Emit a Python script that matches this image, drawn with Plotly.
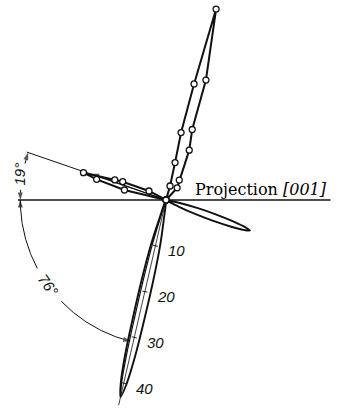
import numpy as np
import plotly.graph_objects as go

# ---- data (radius in scale units, angle in degrees, counter-clockwise from +x) ----
# measured lobe pointing up (open circles), listed as a closed loop
upper_r = [0, 3.1, 8.2, 14.7, 25.4, 42.0, 26.9, 16.0, 11.7, 5.1, 3.5, 0]
upper_deg = [0, 74.0, 76.4, 77.4, 76.4, 75.3, 71.6, 69.6, 65.0, 56.4, 47.5, 0]

# measured lobe pointing to the upper left (open circles), closed loop
left_r = [0, 4.1, 10.0, 11.7, 18.5, 15.4, 9.1, 0]
left_deg = [0, 152.1, 157.1, 158.6, 161.7, 163.4, 166.5, 0]

# smooth lobes: axis direction, radii along the axis and half-opening of the outline
lower_axis_deg = 257.0
lower_r = [0, 4, 10, 18, 26, 34, 40, 43]
lower_half_deg = [7.0, 6.6, 5.6, 3.9, 2.7, 1.8, 0.9, 0.0]

right_axis_deg = 340.0
right_r = [0, 3, 7, 11, 15, 18, 19]
right_half_deg = [8.5, 7.6, 5.6, 3.9, 2.3, 0.9, 0.0]

# radial scale drawn on the lower lobe
scale_ticks = [10, 20, 30, 40]
scale_labels = ["10", "20", "30", "40"]

# marked angles
angle_small = 19   # between the projection line and the upper-left direction
angle_large = 76   # between the projection line and the lower lobe

# ---- geometry / style ----
PX = 4.7            # pixels per radial unit
W, H = 343, 410
CX, CY = 166, 200   # pole, pixels from the top-left corner
INK = "#111111"
ARC_R = 31.0
LINE_LEFT, LINE_RIGHT = 31.5, 35.0
ITALIC = dict(family="Liberation Sans Narrow, Liberation Sans, sans-serif",
              color=INK, style="italic")


def to_xy(r, deg):
    r = np.asarray(r, dtype=float)
    t = np.radians(np.asarray(deg, dtype=float))
    return r * np.cos(t), r * np.sin(t)


def lobe_outline(axis, radii, half):
    radii = list(radii)
    half = list(half)
    rr = radii + radii[-2::-1]
    aa = [axis - h for h in half] + [axis + h for h in half[-2::-1]]
    return to_xy(rr, aa)


def arc(a0, a1, r=ARC_R, n=40):
    a = np.linspace(a0, a1, n)
    return to_xy(np.full(n, r), a)


fig = go.Figure()


def add_line(x, y, width=1.6, shape="linear", arrow_end=False):
    x = list(x)
    y = list(y)
    kw = dict(x=x, y=y, line=dict(color=INK, width=width, shape=shape),
              hoverinfo="skip", showlegend=False)
    if arrow_end:
        sizes = [0] * (len(x) - 1) + [8]
        kw.update(mode="lines+markers",
                  marker=dict(symbol="arrow", angleref="previous", size=sizes,
                              color=INK, line=dict(width=0)))
    else:
        kw.update(mode="lines")
    fig.add_trace(go.Scatter(**kw))


# projection line and the upper-left reference direction
hx, hy = to_xy([LINE_LEFT, 0, LINE_RIGHT], [180, 0, 0])
add_line(hx, hy, width=1.7)
ref_dir = 180 - angle_small
rx, ry = to_xy([0, ARC_R + 0.3], [ref_dir, ref_dir])
add_line(rx, ry, width=1.0)

# angle arcs with arrowheads (broken where the labels sit)
x, y = arc(ref_dir + 4.5, ref_dir, n=10)
add_line(x, y, width=1.0, arrow_end=True)
x, y = arc(176.0, 180.0, n=10)
add_line(x, y, width=1.0, arrow_end=True)
x, y = arc(208.0, 180.0)
add_line(x, y, width=1.0, arrow_end=True)
x, y = arc(224.0, 180 + angle_large)
add_line(x, y, width=1.0, arrow_end=True)

# smooth lower lobe: outline, doubled left edge, axis with scale ticks
x, y = lobe_outline(lower_axis_deg, lower_r, lower_half_deg)
add_line(x, y, width=1.9, shape="spline")
x, y = to_xy(lower_r, [lower_axis_deg - 0.72 * h for h in lower_half_deg])
add_line(x, y, width=1.2, shape="spline")
x, y = to_xy([0, 44.8], [lower_axis_deg, lower_axis_deg])
add_line(x, y, width=0.8)

tx, ty = [], []
ux, uy = np.cos(np.radians(lower_axis_deg + 90)), np.sin(np.radians(lower_axis_deg + 90))
for t in scale_ticks:
    px, py = to_xy(t, lower_axis_deg)
    tx += [px - 0.55 * ux, px + 0.55 * ux, None]
    ty += [py - 0.55 * uy, py + 0.55 * uy, None]
add_line(tx, ty, width=0.9)

# smooth lower-right lobe
x, y = lobe_outline(right_axis_deg, right_r, right_half_deg)
add_line(x, y, width=1.9, shape="spline")

# arrow along the axis of the upper-left lobe
x, y = to_xy([0, 16.8], [ref_dir - 0.5, ref_dir - 0.5])
add_line(x, y, width=1.0, arrow_end=True)

# measured lobes with open circles
for rr, dd in ((left_r, left_deg), (upper_r, upper_deg)):
    x, y = to_xy(rr, dd)
    fig.add_trace(go.Scatter(
        x=x, y=y, mode="lines+markers",
        line=dict(color=INK, width=2.0),
        marker=dict(symbol="circle", size=6, color="white",
                    line=dict(color=INK, width=1.3)),
        hoverinfo="skip", showlegend=False))

# ---- text ----
ann = []
for t, lab in zip(scale_ticks, scale_labels):
    px, py = to_xy(t, lower_axis_deg)
    ann.append(dict(x=float(px), y=float(py), text=lab, showarrow=False,
                    xshift=21, yshift=-5, font=dict(size=15, **ITALIC)))

lx, ly = to_xy(31.6, 169.8)
ann.append(dict(x=float(lx), y=float(ly), text=f"{angle_small}°", showarrow=False,
                textangle=-90, font=dict(size=15, **ITALIC)))
lx, ly = to_xy(30.8, 216.0)
ann.append(dict(x=float(lx), y=float(ly), text=f"{angle_large}°", showarrow=False,
                textangle=54, font=dict(size=15, **ITALIC)))

ann.append(dict(x=(193 - CX) / PX, y=(CY - 189) / PX, xanchor="left", yanchor="middle",
                text="Projection <i>[001]</i>", showarrow=False,
                font=dict(family="DejaVu Serif, serif", size=16, color="#000000")))

fig.update_layout(
    width=W, height=H, margin=dict(l=0, r=0, t=0, b=0),
    paper_bgcolor="white", plot_bgcolor="white",
    xaxis=dict(range=[-CX / PX, (W - CX) / PX], visible=False, fixedrange=True),
    yaxis=dict(range=[-(H - CY) / PX, CY / PX], visible=False, fixedrange=True),
    annotations=ann,
)

fig.write_html("out.html")
